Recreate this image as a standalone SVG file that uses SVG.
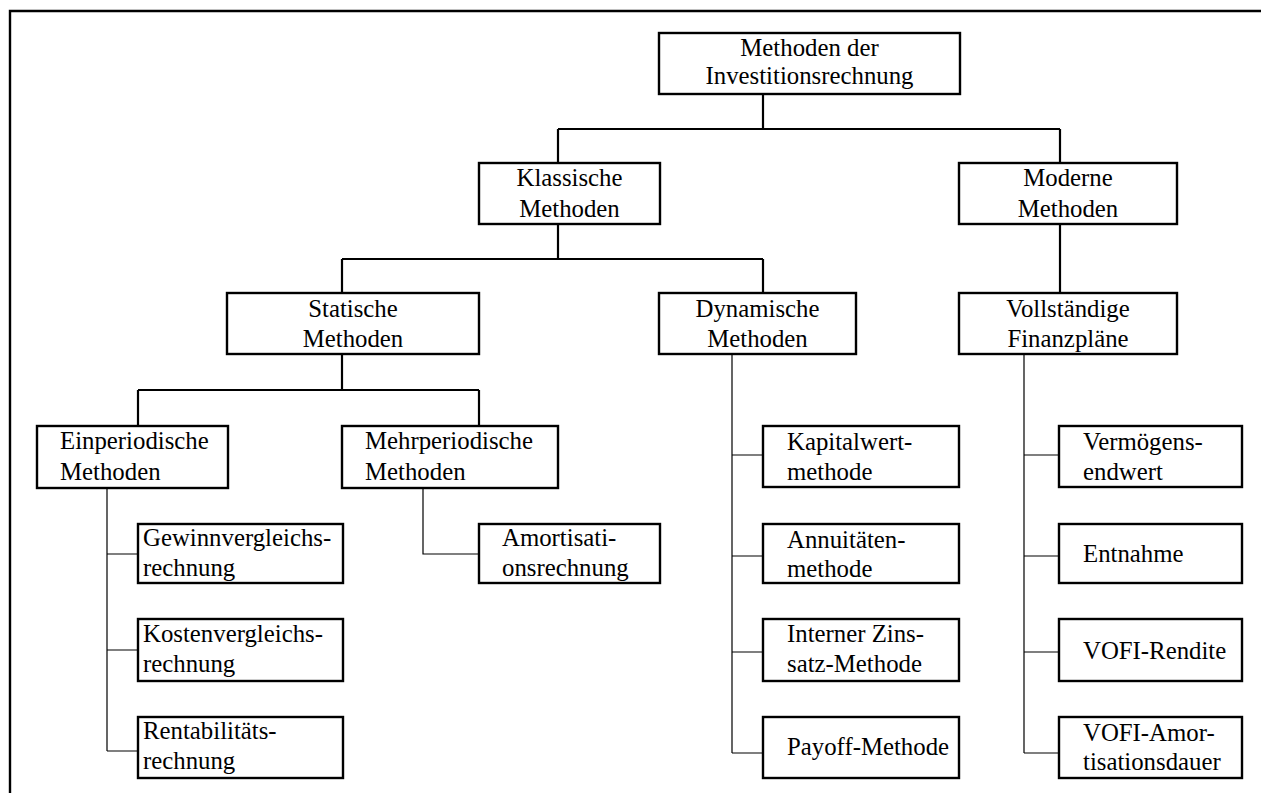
<svg xmlns="http://www.w3.org/2000/svg" width="1261" height="793" viewBox="0 0 1261 793">
  <style>
    .box { fill: #ffffff; stroke: #000000; stroke-width: 2.4; }
    .thick { fill: none; stroke: #000000; stroke-width: 2.2; }
    .thin { fill: none; stroke: #000000; stroke-width: 1.2; }
    .c { text-anchor: middle; }
  </style>
  <rect x="0" y="0" width="1261" height="793" fill="#ffffff"/>
  <!-- page frame -->
  <path d="M10,793 V11 H1261" fill="none" stroke="#000000" stroke-width="2.4"/>

  <g id="connectors">
    <path class="thick" d="M763,94 V129 M558,129 H1060 M558,129 V163 M1060,129 V163"/>
    <path class="thick" d="M558,224 V259 M342,259 H763 M342,259 V293 M763,259 V293"/>
    <path class="thick" d="M1060,224 V293"/>
    <path class="thick" d="M342,354 V390 M138,390 H479 M138,390 V426 M479,390 V426"/>
    <path class="thin" d="M107,488 V751 M107,554 H138 M107,650 H138 M107,751 H138"/>
    <path class="thin" d="M423,488 V554 H479"/>
    <path class="thin" d="M732,354 V753 M732,455 H763 M732,556 H763 M732,652 H763 M732,753 H763"/>
    <path class="thin" d="M1024,354 V753 M1024,455 H1059 M1024,556 H1059 M1024,652 H1059 M1024,753 H1059"/>
  </g>

  <g font-family="Liberation Serif, Tinos, DejaVu Serif, serif" font-size="24.8" fill="#000000">
  <g id="root">
    <rect class="box" x="659" y="33" width="301" height="61"/>
    <text class="c" x="809.5" y="56">Methoden der</text>
    <text class="c" x="809.5" y="84">Investitionsrechnung</text>
  </g>

  <g id="klassisch">
    <rect class="box" x="479" y="163" width="181" height="61"/>
    <text class="c" x="569.5" y="186">Klassische</text>
    <text class="c" x="569.5" y="217">Methoden</text>
  </g>
  <g id="modern">
    <rect class="box" x="959" y="163" width="218" height="61"/>
    <text class="c" x="1068" y="186">Moderne</text>
    <text class="c" x="1068" y="217">Methoden</text>
  </g>

  <g id="statisch">
    <rect class="box" x="227" y="293" width="252" height="61"/>
    <text class="c" x="353" y="317">Statische</text>
    <text class="c" x="353" y="347">Methoden</text>
  </g>
  <g id="dynamisch">
    <rect class="box" x="659" y="293" width="197" height="61"/>
    <text class="c" x="757.5" y="317">Dynamische</text>
    <text class="c" x="757.5" y="347">Methoden</text>
  </g>
  <g id="vofi">
    <rect class="box" x="959" y="293" width="218" height="61"/>
    <text class="c" x="1068" y="317">Vollständige</text>
    <text class="c" x="1068" y="347">Finanzpläne</text>
  </g>

  <g id="einperiodisch">
    <rect class="box" x="37" y="426" width="191" height="62"/>
    <text x="60" y="449">Einperiodische</text>
    <text x="60" y="480">Methoden</text>
  </g>
  <g id="mehrperiodisch">
    <rect class="box" x="342" y="426" width="216" height="62"/>
    <text x="365" y="449">Mehrperiodische</text>
    <text x="365" y="480">Methoden</text>
  </g>

  <g id="gewinnvergleich">
    <rect class="box" x="138" y="524" width="205" height="59"/>
    <text x="143" y="546">Gewinnvergleichs-</text>
    <text x="143" y="576">rechnung</text>
  </g>
  <g id="kostenvergleich">
    <rect class="box" x="138" y="619" width="205" height="62"/>
    <text x="143" y="642">Kostenvergleichs-</text>
    <text x="143" y="672">rechnung</text>
  </g>
  <g id="rentabilitaet">
    <rect class="box" x="138" y="717" width="205" height="61"/>
    <text x="143" y="739">Rentabilitäts-</text>
    <text x="143" y="769">rechnung</text>
  </g>

  <g id="amortisation">
    <rect class="box" x="479" y="524" width="181" height="59"/>
    <text x="502" y="546">Amortisati-</text>
    <text x="502" y="576">onsrechnung</text>
  </g>

  <g id="kapitalwert">
    <rect class="box" x="763" y="426" width="196" height="61"/>
    <text x="787" y="450">Kapitalwert-</text>
    <text x="787" y="480">methode</text>
  </g>
  <g id="annuitaeten">
    <rect class="box" x="763" y="524" width="196" height="59"/>
    <text x="787" y="548">Annuitäten-</text>
    <text x="787" y="577">methode</text>
  </g>
  <g id="zinsfuss">
    <rect class="box" x="763" y="619" width="196" height="62"/>
    <text x="787" y="642">Interner Zins-</text>
    <text x="787" y="672">satz-Methode</text>
  </g>
  <g id="payoff">
    <rect class="box" x="763" y="717" width="196" height="61"/>
    <text x="787" y="755">Payoff-Methode</text>
  </g>

  <g id="vermoegensendwert">
    <rect class="box" x="1059" y="426" width="183" height="61"/>
    <text x="1083" y="450">Vermögens-</text>
    <text x="1083" y="480">endwert</text>
  </g>
  <g id="entnahme">
    <rect class="box" x="1059" y="524" width="183" height="59"/>
    <text x="1083" y="562">Entnahme</text>
  </g>
  <g id="vofi-rendite">
    <rect class="box" x="1059" y="619" width="183" height="62"/>
    <text x="1083" y="659">VOFI-Rendite</text>
  </g>
  <g id="vofi-amortisation">
    <rect class="box" x="1059" y="717" width="183" height="61"/>
    <text x="1083" y="741">VOFI-Amor-</text>
    <text x="1083" y="770">tisationsdauer</text>
  </g>
  </g>
</svg>
